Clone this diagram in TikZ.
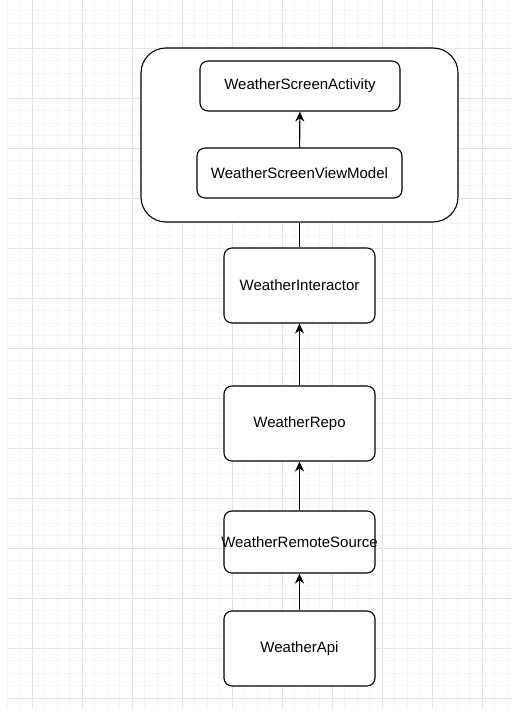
\documentclass[tikz,border=0pt]{standalone}
\usepackage{fontspec}
\setmainfont{Liberation Sans}
\usetikzlibrary{arrows.meta}
\tikzset{
    layerbox/.style={
        draw,
        line width=1.1bp,
        rounded corners=8bp,
        fill=white,
        font=\fontsize{15bp}{18bp}\selectfont,
        inner sep=0pt
    },
    % pfeil zwischen den schichten
    dataarrow/.style={
        line width=1.1bp,
        black,
        -{Stealth[length=10bp, width=9bp]}
    }
}

\begin{document}
\begin{tikzpicture}[x=1bp, y=-1bp]
        \useasboundingbox (0,0) rectangle (526,716);
        \fill[white] (0,0) rectangle (526,716);
        \foreach \gx in {7,19.5,...,512} \draw[gray!7, line width=0.6bp] (\gx,0) -- (\gx,708);
        \foreach \gy in {10.5,23,...,708} \draw[gray!7, line width=0.6bp] (7,\gy) -- (512,\gy);
        \foreach \gx in {32,82,...,512} \draw[gray!22, line width=0.7bp] (\gx,0) -- (\gx,708);
        \foreach \gy in {48,98,...,708} \draw[gray!22, line width=0.7bp] (7,\gy) -- (512,\gy);

        \node[layerbox, rounded corners=25bp, minimum width=317bp, minimum height=174bp] (screen) at (299.5,135) {};
        \node[layerbox, minimum width=200bp, minimum height=50bp] (activity) at (300,86) {WeatherScreenActivity};
        \node[layerbox, minimum width=205bp, minimum height=50bp] (viewmodel) at (299.5,173) {WeatherScreenViewModel};
        \node[layerbox, minimum width=151bp, minimum height=75bp] (interactor) at (299.5,285.5) {WeatherInteractor};
        \node[layerbox, minimum width=151bp, minimum height=75bp] (repo) at (299.5,423.5) {WeatherRepo};
        \node[layerbox, minimum width=151bp, minimum height=62bp] (remote) at (299.5,542) {\makebox[0pt]{WeatherRemoteSource}};
        \node[layerbox, minimum width=151bp, minimum height=75bp] (api) at (299.5,648.5) {WeatherApi};

        \draw[dataarrow] (viewmodel) -- (activity);
        \draw[line width=1.1bp] (interactor.north) -- (screen.south);
        \draw[dataarrow] (repo) -- (interactor);
        \draw[dataarrow] (remote) -- (repo);
        \draw[dataarrow] (api) -- (remote);
\end{tikzpicture}
\end{document}
